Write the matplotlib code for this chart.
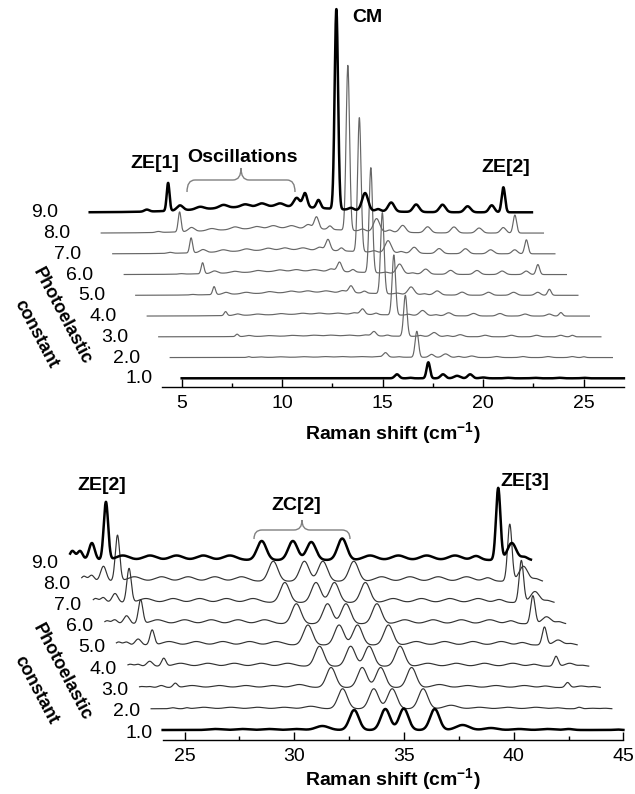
import numpy as np
import matplotlib
matplotlib.use("Agg")
import matplotlib.pyplot as plt
from matplotlib.path import Path
from matplotlib.patches import PathPatch
from matplotlib.transforms import Affine2D

plt.rcParams['font.family'] = ['Liberation Sans', 'DejaVu Sans']
plt.rcParams['mathtext.fontset'] = 'custom'
plt.rcParams['mathtext.rm'] = 'Liberation Sans'
plt.rcParams['mathtext.bf'] = 'Liberation Sans:bold'

# ---------------- data ----------------
constants = ['1.0', '2.0', '3.0', '4.0', '5.0', '6.0', '7.0', '8.0', '9.0']

# top panel: peak centres (cm-1), widths (sigma, cm-1) and heights (a.u.) per trace
top_range = [5.0, 27.0]
top_centers = [7.84, 8.90, 9.49, 10.49, 11.65, 12.73, 13.56, 14.47, 15.30, 15.71, 16.38,
               17.27, 18.00, 18.70, 19.35, 20.00, 21.24, 22.55, 23.80, 25.00, 25.58, 14.0]
top_widths = [0.12, 0.07, 0.15, 0.2, 0.2, 0.2, 0.2, 0.2, 0.15, 0.11, 0.1,
              0.085, 0.12, 0.15, 0.12, 0.15, 0.15, 0.15, 0.15, 0.13, 0.085, 3.0]
top_heights = [
    [0, 0, 0, 0, 0, 0, 0, 0, 0, 4, 0.5, 16, 4, 2.5, 4, 0.8, 0.5, 0.5, 0.5, 0.5, 0, 0],
    [0, 0.8, 0.5, 0.5, 0.5, 0.5, 0.5, 0.5, 0.5, 4.5, 0.5, 26, 3, 3.5, 1, 1.5, 1, 1, 1, 1, 0.8, 0.5],
    [0, 2.4, 1, 0.7, 0.7, 0.7, 0.7, 0.7, 1, 4.5, 1, 41, 1, 4, 1, 2, 1.5, 1.5, 1.5, 1.5, 1.5, 1],
    [0, 4, 1.5, 1, 1, 1, 1, 1, 1.5, 5.5, 1.5, 60, 1, 5, 1, 3, 2.5, 2.5, 2, 2, 3.5, 2],
    [0.5, 8, 2, 1.5, 1.5, 1.5, 1.5, 1.5, 2, 7, 2, 81, 1, 7.5, 1, 4, 3, 3, 3, 3, 6, 3],
    [0.5, 11, 2.5, 1.5, 1.5, 1.5, 1.5, 1.5, 2.5, 9.5, 2.5, 105, 1, 9.5, 1, 5, 4, 4, 3.5, 3.5, 10, 3.5],
    [1, 15, 3, 2, 2, 2, 2, 2, 3, 11, 3, 134, 1.5, 12, 1.5, 6, 5, 5, 4, 4, 14, 4],
    [1, 20, 4, 2, 2.5, 2, 2.5, 2.5, 4, 12, 3.5, 165, 2, 13, 2, 7, 6, 6, 5, 5.5, 18, 5],
    [2, 28, 5, 2.5, 3, 2.5, 3, 3, 9, 14, 8, 200, 2, 17.5, 2, 9, 7.5, 7.5, 6, 7, 25, 6],
]

# bottom panel
bot_range = [24.0, 45.0]
bot_centers = [24.10, 24.45, 24.99, 25.63, 26.40, 27.64, 28.85, 30.07, 31.28, 32.73, 34.15,
               34.99, 36.40, 37.67, 38.96, 40.25, 41.54, 42.50, 43.51, 44.13, 44.70]
bot_widths = [0.12, 0.12, 0.13, 0.1, 0.3, 0.3, 0.3, 0.3, 0.3, 0.21, 0.21,
              0.21, 0.21, 0.3, 0.3, 0.3, 0.3, 0.2, 0.1, 0.2, 0.15]
bot_heights = [
    [0, 0, 0, 0, 1, 1, 1, 1, 4, 20, 21, 21.5, 21, 5, 2, 1, 1, 1, 0, 0, 0.5],
    [0, 0, 1, 1, 1.5, 1.5, 1.5, 1.5, 2.5, 20, 20, 20, 20, 3.5, 1.5, 1.5, 1.5, 1, 1.5, 0.5, 0.5],
    [1, 1, 2, 4.3, 2, 2, 2, 2, 3, 20, 20, 20, 20, 3, 2, 2, 2, 1.5, 5, 1.5, 1],
    [2, 2, 5, 8, 3, 3, 3, 3, 3, 20, 20, 20, 20, 3, 3, 3, 3, 2, 10, 3, 1],
    [3, 3, 6, 15, 3.5, 3.5, 3.5, 3.5, 3.5, 20, 20, 20, 20, 3.5, 3.5, 3.5, 3.5, 2.5, 18, 5, 1.5],
    [3, 4, 8, 24, 4, 4, 4, 4, 4, 20, 20, 20, 20, 4, 4, 4, 4, 3, 28, 7, 2],
    [4, 5, 9, 34, 4, 4, 4, 4, 4, 20, 20, 20, 20, 4, 4, 4, 4, 3, 42, 11, 2],
    [5, 6, 15, 46, 4.5, 4.5, 4.5, 4.5, 4.5, 20, 20, 20, 20, 4.5, 4.5, 4.5, 4.5, 3.5, 57, 15, 2.5],
    [9, 9, 17, 58, 4.5, 4.5, 4.5, 4.5, 4.5, 19, 19, 18, 21.5, 4.5, 4.5, 4.5, 4.5, 4, 72, 17, 3],
]

top_ticks = [5, 10, 15, 20, 25]
bot_ticks = [25, 30, 35, 40, 45]

# ---------------- layout ----------------
W, H = 635, 794
fig = plt.figure(figsize=(W / 100, H / 100), dpi=100)
PX = Affine2D().scale(1 / W, -1 / H).translate(0, 1) + fig.transFigure


def spectrum(x, centers, widths, heights):
    c = np.asarray(centers, float)[:, None]
    w = np.asarray(widths, float)[:, None]
    h = np.asarray(heights, float)[:, None]
    return (h * np.exp(-0.5 * ((x[None, :] - c) / w) ** 2)).sum(axis=0)


def panel(rect_px, x0, px_x0, unit, base_px, axis_px, xr, bounds, centers, widths, heights,
          dx, dy, ticks, thin_color):
    top, bot = rect_px
    ax = fig.add_axes([0, 1 - bot / H, 1, (bot - top) / H])
    ax.patch.set_visible(False)
    ax.set_xlim(x0 - px_x0 / unit, x0 + (W - px_x0) / unit)
    ax.set_ylim(base_px - bot, base_px - top)
    for s in ['top', 'left', 'right']:
        ax.spines[s].set_visible(False)
    ax.spines['bottom'].set_position(('data', base_px - axis_px))
    ax.spines['bottom'].set_bounds(*bounds)
    ax.spines['bottom'].set_linewidth(1.0)
    ax.set_yticks([])
    ax.set_xticks(ticks)
    ax.set_xticks([t + 2.5 for t in ticks[:-1]], minor=True)
    ax.tick_params(axis='x', which='major', direction='in', length=6, width=1.0,
                   labelsize=14, pad=6)
    ax.tick_params(axis='x', which='minor', direction='in', length=3, width=1.0)
    xs = np.linspace(xr[0], xr[1], 3000)
    order = list(range(1, 8)) + [0, 8]
    for k in order:
        y = spectrum(xs, centers, widths, heights[k]) + k * dy
        thick = k in (0, 8)
        ax.plot(xs - k * dx, y, color='black' if thick else thin_color,
                lw=1.8 if thick else 0.85, solid_joinstyle='round', clip_on=False,
                zorder=3 if thick else 2)
    return ax


ax1 = panel((0, 400), 5, 181.7, 20.1, 378.3, 387, top_range, (4.0, 27.0), top_centers,
            top_widths, top_heights, 0.572, 20.75, top_ticks, '#666666')
ax2 = panel((440, 794), 25, 184.6, 21.94, 730, 740, bot_range, (24.0, 45.0), bot_centers,
            bot_widths, bot_heights, 0.527, 21.25, bot_ticks, '#333333')

# trace labels
for k, lab in enumerate(constants):
    xr_px = 152.4 - k * 11.8
    fig.text(xr_px / W, 1 - (378.3 - k * 20.75 + 0.5) / H, lab, ha='right', va='center',
             fontsize=14)
    fig.text(xr_px / W, 1 - (730 - k * 21.25 + 3) / H, lab, ha='right', va='center',
             fontsize=14)

# rotated axis title
for dyp in (0, 356):
    fig.text(61.5 / W, 1 - (316.5 + dyp) / H, 'Photoelastic', rotation=-62,
             rotation_mode='anchor', ha='center', va='center', fontsize=13, fontweight='bold')
    fig.text(36 / W, 1 - (333.5 + dyp) / H, 'constant', rotation=-62,
             rotation_mode='anchor', ha='center', va='center', fontsize=13, fontweight='bold')

# x labels
for yb in (440, 786):
    fig.text(393 / W, 1 - yb / H, r'Raman shift (cm$^{\mathbf{-1}}$)', ha='center',
             va='baseline', fontsize=14, fontweight='bold')

# annotations
ann = [('CM', 367, 18), ('ZE[1]', 155, 163), ('Oscillations', 242, 157), ('ZE[2]', 506, 168),
       ('ZE[2]', 102, 486), ('ZC[2]', 296, 505), ('ZE[3]', 525, 482)]
for t, xp, yp in ann:
    fig.text(xp / W, 1 - yp / H, t, ha='center', va='center', fontsize=14, fontweight='bold')


def brace(x0, x1, yend, yline, ytip, r=8):
    xm = 0.5 * (x0 + x1)
    verts = [(x0, yend), (x0, yline), (x0 + r, yline), (xm - r, yline), (xm, yline), (xm, ytip),
             (xm, yline), (xm + r, yline), (x1 - r, yline), (x1, yline), (x1, yend)]
    codes = [Path.MOVETO, Path.CURVE3, Path.CURVE3, Path.LINETO, Path.CURVE3, Path.CURVE3,
             Path.CURVE3, Path.CURVE3, Path.LINETO, Path.CURVE3, Path.CURVE3]
    fig.patches.append(PathPatch(Path(verts, codes), transform=PX, fill=False,
                                 edgecolor='#808080', lw=1.0))


brace(187, 295, 192, 180, 168)
brace(254, 350, 539, 530, 520)

fig.savefig('out.png', dpi=100)
